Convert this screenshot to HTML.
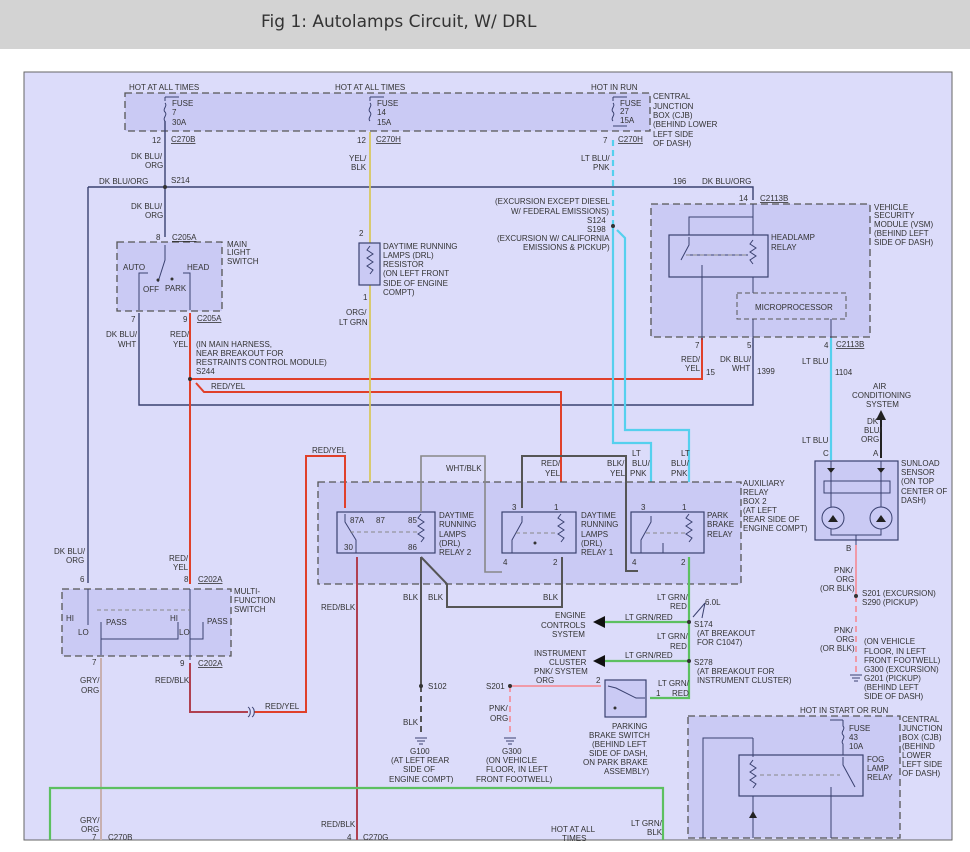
<!DOCTYPE html>
<html><head><meta charset="utf-8"><style>
html,body{margin:0;padding:0;background:#fff;}
body{width:970px;height:852px;overflow:hidden;position:relative;font-family:"Liberation Sans",sans-serif;}
.hdr{position:absolute;left:0;top:0;width:970px;height:49px;background:#d3d3d3;}
.hdr span{position:absolute;left:261px;top:12px;font-size:17px;color:#333;font-family:"DejaVu Sans","Liberation Sans",sans-serif;}
svg{position:absolute;left:0;top:0;}
text{font-family:"Liberation Sans",sans-serif;font-size:8px;fill:#333;}
.b{fill:none;stroke:#3a4170;stroke-width:1.4}
.t{fill:none;stroke:#3a4170;stroke-width:1}
.bx{fill:#cacaf4;stroke:#555;stroke-width:1.3;stroke-dasharray:7,4}
.rl{fill:#cacaf4;stroke:#3a4170;stroke-width:1.2}
.red{fill:none;stroke:#e0402a;stroke-width:2}
.rb{fill:none;stroke:#b04050;stroke-width:2}
.cy{fill:none;stroke:#55d0ee;stroke-width:2.2}
.gr{fill:none;stroke:#5cc060;stroke-width:2.2}
.gy{fill:none;stroke:#888;stroke-width:1.6}
.dg{fill:none;stroke:#555;stroke-width:2}
.pk{fill:none;stroke:#f09aa8;stroke-width:2}
</style></head><body>
<div class="hdr"><span>Fig 1: Autolamps Circuit, W/ DRL</span></div>
<svg width="970" height="852" viewBox="0 0 970 852">
<rect x="24" y="72" width="928" height="768" fill="#dcdcfa" stroke="#666" stroke-width="1"/>
<!-- top CJB -->
<rect class="bx" x="125" y="93" width="525" height="38"/>
<text x="129" y="90">HOT AT ALL TIMES</text>
<text x="335" y="90">HOT AT ALL TIMES</text>
<text x="591" y="90">HOT IN RUN</text>
<text x="172" y="106">FUSE</text><text x="172" y="115">7</text><text x="172" y="125">30A</text>
<text x="377" y="106">FUSE</text><text x="377" y="115">14</text><text x="377" y="125">15A</text>
<text x="620" y="106">FUSE</text><text x="620" y="114">27</text><text x="620" y="123">15A</text>
<text x="653" y="99">CENTRAL</text><text x="653" y="109">JUNCTION</text><text x="653" y="118">BOX (CJB)</text><text x="653" y="127">(BEHIND LOWER</text><text x="653" y="137">LEFT SIDE</text><text x="653" y="146">OF DASH)</text>
<path class="t" d="M165 97v4M165 97h14M370 97v4M370 97h14M613 97v4M613 97h14M613 126h14"/>
<path class="t" d="M165 103c3 3-3 6 0 9c3 3-3 6 0 9M370 103c3 3-3 6 0 9c3 3-3 6 0 9M613 103c3 3-3 6 0 9c3 3-3 6 0 9"/>
<text x="152" y="143">12</text><text x="171" y="142" text-decoration="underline">C270B</text>
<text x="357" y="143">12</text><text x="376" y="142" text-decoration="underline">C270H</text>
<text x="603" y="143">7</text><text x="618" y="142" text-decoration="underline">C270H</text>
<!-- dk blu org -->
<path class="b" d="M165 121V237M88 187H753V200M88 187V583"/>
<circle cx="165" cy="187" r="2" fill="#333"/>
<text x="131" y="159">DK BLU/</text><text x="145" y="168">ORG</text>
<text x="99" y="184">DK BLU/ORG</text><text x="171" y="183">S214</text>
<text x="131" y="209">DK BLU/</text><text x="145" y="218">ORG</text>
<text x="673" y="184">196</text><text x="702" y="184">DK BLU/ORG</text>
<!-- main light switch -->
<rect class="bx" x="117" y="242" width="105" height="69"/>
<text x="156" y="240">8</text><text x="172" y="240" text-decoration="underline">C205A</text>
<text x="227" y="247">MAIN</text><text x="227" y="255">LIGHT</text><text x="227" y="264">SWITCH</text>
<text x="123" y="270">AUTO</text><text x="187" y="270">HEAD</text><text x="143" y="292">OFF</text><text x="165" y="291">PARK</text>
<path class="t" d="M165 245v15l-7 22M148 273h-9V310M183 273h7V310"/>
<circle cx="158" cy="280" r="1.5" fill="#333"/><circle cx="172" cy="279" r="1.5" fill="#333"/>
<text x="131" y="322">7</text><text x="183" y="322">9</text><text x="197" y="321" text-decoration="underline">C205A</text>
<path class="b" d="M139 313V405H753V338"/>
<text x="106" y="337">DK BLU/</text><text x="118" y="347">WHT</text>
<text x="170" y="337">RED/</text><text x="173" y="347">YEL</text>
<text x="196" y="347">(IN MAIN HARNESS,</text><text x="196" y="356">NEAR BREAKOUT FOR</text><text x="196" y="365">RESTRAINTS CONTROL MODULE)</text><text x="196" y="374">S244</text>
<!-- red -->
<path class="red" d="M190 313V580M190 379H702V338M196 383l8 9H561V507"/>
<circle cx="190" cy="379" r="2" fill="#333"/>
<text x="211" y="389">RED/YEL</text>
<text x="681" y="362">RED/</text><text x="685" y="371">YEL</text><text x="706" y="375">15</text>
<text x="720" y="362">DK BLU/</text><text x="732" y="371">WHT</text><text x="757" y="374">1399</text>
<!-- yellow -->
<path d="M370 132V508" fill="none" stroke="#d8c860" stroke-width="1.8"/>
<text x="349" y="161">YEL/</text><text x="351" y="170">BLK</text>
<text x="359" y="236">2</text><text x="363" y="300">1</text>
<rect class="rl" x="359" y="243" width="21" height="42"/>
<path class="t" d="M370 246l-3 4l6 4l-6 4l6 4l-6 4l6 4l-3 4"/>
<text x="383" y="249">DAYTIME RUNNING</text><text x="383" y="258">LAMPS (DRL)</text><text x="383" y="267">RESISTOR</text><text x="383" y="276">(ON LEFT FRONT</text><text x="383" y="286">SIDE OF ENGINE</text><text x="383" y="295">COMPT)</text>
<text x="346" y="315">ORG/</text><text x="339" y="325">LT GRN</text>
<!-- cyan -->
<path class="cy" d="M613 140V226" stroke-dasharray="6,4"/>
<path class="cy" d="M613 226V443H651V508M617 230l8 8V430H689V508"/>
<circle cx="613" cy="226" r="2" fill="#333"/>
<text x="581" y="161">LT BLU/</text><text x="593" y="170">PNK</text>
<text x="495" y="204">(EXCURSION EXCEPT DIESEL</text><text x="511" y="214">W/ FEDERAL EMISSIONS)</text><text x="587" y="223">S124</text><text x="587" y="232">S198</text><text x="497" y="241">(EXCURSION W/ CALIFORNIA</text><text x="523" y="250">EMISSIONS &amp; PICKUP)</text>
<!-- VSM -->
<rect class="bx" x="651" y="204" width="219" height="133"/>
<text x="739" y="201">14</text><text x="760" y="201" text-decoration="underline">C2113B</text>
<text x="874" y="210">VEHICLE</text><text x="874" y="218">SECURITY</text><text x="874" y="227">MODULE (VSM)</text><text x="874" y="236">(BEHIND LEFT</text><text x="874" y="245">SIDE OF DASH)</text>
<path class="t" d="M753 204V293M753 217H689V235"/>
<rect class="rl" x="669" y="235" width="99" height="42"/>
<path class="t" d="M689 237v8l-8 15M753 240l-3 4l6 4l-6 4l6 4l-6 4l3 4M686 255h62M702 265v75" stroke-dasharray="0"/>
<path d="M686 255h60" stroke="#888" stroke-dasharray="4,3" fill="none"/>
<text x="771" y="240">HEADLAMP</text><text x="771" y="250">RELAY</text>
<rect x="737" y="293" width="109" height="26" fill="#cacaf4" stroke="#555" stroke-dasharray="5,3"/>
<text x="755" y="310">MICROPROCESSOR</text>
<path class="t" d="M753 319V338M831 319V338"/>
<text x="695" y="348">7</text><text x="747" y="348">5</text><text x="824" y="348">4</text><text x="836" y="347" text-decoration="underline">C2113B</text>
<path class="cy" d="M831 338V460"/>
<text x="802" y="364">LT BLU</text><text x="835" y="375">1104</text>
<text x="873" y="389">AIR</text><text x="852" y="398">CONDITIONING</text><text x="866" y="407">SYSTEM</text>
<path d="M881 458V418" stroke="#222" stroke-width="2"/><path d="M876 420l5-10l5 10z" fill="#222"/>
<text x="867" y="424">DK</text><text x="864" y="433">BLU/</text><text x="861" y="442">ORG</text><text x="873" y="456">A</text>
<text x="802" y="443">LT BLU</text><text x="823" y="456">C</text>
<!-- sunload -->
<rect class="rl" x="815" y="461" width="83" height="79"/>
<rect x="824" y="481" width="66" height="12" fill="#cacaf4" stroke="#3a4170"/>
<circle cx="833" cy="518" r="11" fill="none" stroke="#3a4170"/><circle cx="881" cy="518" r="11" fill="none" stroke="#3a4170"/>
<path class="t" d="M831 461V507M881 461V507M831 529v6h50v-6M856 535v10"/>
<path d="M827 468h8l-4 5zM877 468h8l-4 5zM828 522l5-7l5 7zM876 522l5-7l5 7z" fill="#222"/>
<text x="901" y="466">SUNLOAD</text><text x="901" y="475">SENSOR</text><text x="901" y="484">(ON TOP</text><text x="901" y="494">CENTER OF</text><text x="901" y="503">DASH)</text>
<text x="846" y="551">B</text>
<path class="pk" d="M856 545V596"/><path class="pk" d="M856 596V672" stroke-dasharray="6,4"/>
<circle cx="856" cy="596" r="2" fill="#333"/>
<text x="834" y="573">PNK/</text><text x="836" y="582">ORG</text><text x="820" y="591">(OR BLK)</text>
<text x="862" y="596">S201  (EXCURSION)</text><text x="862" y="605">S290  (PICKUP)</text>
<text x="834" y="633">PNK/</text><text x="836" y="642">ORG</text><text x="820" y="651">(OR BLK)</text>
<text x="864" y="644">(ON VEHICLE</text><text x="864" y="654">FLOOR, IN LEFT</text><text x="864" y="663">FRONT FOOTWELL)</text><text x="864" y="672">G300  (EXCURSION)</text><text x="864" y="681">G201  (PICKUP)</text><text x="864" y="690">(BEHIND LEFT</text><text x="864" y="699">SIDE OF DASH)</text>
<path class="t" d="M850 675h12M852 678h8M854 681h4"/>
<!-- aux relay box -->
<rect class="bx" x="318" y="482" width="423" height="102"/>
<text x="743" y="486">AUXILIARY</text><text x="743" y="495">RELAY</text><text x="743" y="504">BOX 2</text><text x="743" y="513">(AT LEFT</text><text x="743" y="522">REAR SIDE OF</text><text x="743" y="531">ENGINE COMPT)</text>
<rect class="rl" x="337" y="512" width="98" height="41"/>
<rect class="rl" x="502" y="512" width="74" height="41"/>
<rect class="rl" x="631" y="512" width="73" height="41"/>
<text x="350" y="523">87A</text><text x="376" y="523">87</text><text x="408" y="523">85</text><text x="344" y="550">30</text><text x="408" y="550">86</text>
<text x="439" y="518">DAYTIME</text><text x="439" y="527">RUNNING</text><text x="439" y="537">LAMPS</text><text x="439" y="546">(DRL)</text><text x="439" y="555">RELAY 2</text>
<text x="581" y="518">DAYTIME</text><text x="581" y="527">RUNNING</text><text x="581" y="537">LAMPS</text><text x="581" y="546">(DRL)</text><text x="581" y="555">RELAY 1</text>
<text x="707" y="518">PARK</text><text x="707" y="527">BRAKE</text><text x="707" y="537">RELAY</text>
<text x="512" y="510">3</text><text x="554" y="510">1</text><text x="641" y="510">3</text><text x="682" y="510">1</text>
<text x="503" y="565">4</text><text x="553" y="565">2</text><text x="632" y="565">4</text><text x="681" y="565">2</text>
<path class="t" d="M345 514v8l11 18v13M421 514l-3 4l6 4l-6 4l6 4l-6 4l6 4l-3 4M561 514l-3 4l6 4l-6 4l6 4l-6 4l6 4l-3 4M689 514l-3 4l6 4l-6 4l6 4l-6 4l6 4l-3 4M522 516v6l-10 18v13M651 516v6l-10 18v13M663 543v10"/>
<path d="M350 532h68M516 533h42M646 533h40" stroke="#888" stroke-dasharray="4,3" fill="none"/>
<circle cx="535" cy="543" r="1.5" fill="#333"/>
<!-- gray wires -->
<path class="gy" d="M421 512V456H485V572H502"/>
<path class="dg" d="M522 508V456H626V571H638"/>
<text x="446" y="471">WHT/BLK</text>
<text x="541" y="466">RED/</text><text x="545" y="476">YEL</text>
<text x="607" y="466">BLK/</text><text x="610" y="476">YEL</text>
<text x="632" y="456">LT</text><text x="632" y="466">BLU/</text><text x="630" y="476">PNK</text>
<text x="681" y="456">LT</text><text x="671" y="466">BLU/</text><text x="671" y="476">PNK</text>
<!-- BLK -->
<path class="dg" d="M421 557V686M421 557l26 27V607H562V557"/>
<path class="dg" d="M421 686V735" stroke-dasharray="6,4"/>
<circle cx="421" cy="686" r="2" fill="#333"/>
<text x="403" y="600">BLK</text><text x="428" y="600">BLK</text><text x="543" y="600">BLK</text>
<text x="428" y="689">S102</text><text x="403" y="725">BLK</text>
<path class="t" d="M415 738h12M417 741h8M419 744h4"/>
<text x="410" y="754">G100</text><text x="391" y="763">(AT LEFT REAR</text><text x="403" y="772">SIDE OF</text><text x="389" y="782">ENGINE COMPT)</text>
<!-- green -->
<path class="gr" d="M689 557V698H650M689 622H597M689 661H597"/>
<path d="M593 622l12-6v12zM593 661l12-6v12z" fill="#111"/>
<circle cx="689" cy="622" r="2" fill="#333"/><circle cx="689" cy="661" r="2" fill="#333"/>
<path class="t" d="M705 603l-12 14M705 603l-3 15"/>
<text x="657" y="600">LT GRN/</text><text x="670" y="609">RED</text><text x="705" y="605">6.0L</text>
<text x="625" y="620">LT GRN/RED</text><text x="694" y="627">S174</text><text x="697" y="636">(AT BREAKOUT</text><text x="697" y="645">FOR C1047)</text>
<text x="657" y="639">LT GRN/</text><text x="670" y="649">RED</text>
<text x="625" y="658">LT GRN/RED</text><text x="694" y="665">S278</text><text x="697" y="674">(AT BREAKOUT FOR</text><text x="697" y="683">INSTRUMENT CLUSTER)</text>
<text x="555" y="618">ENGINE</text><text x="541" y="628">CONTROLS</text><text x="552" y="637">SYSTEM</text>
<text x="534" y="656">INSTRUMENT</text><text x="549" y="665">CLUSTER</text><text x="534" y="674">PNK/ SYSTEM</text><text x="536" y="683">ORG</text>
<text x="658" y="686">LT GRN/</text><text x="656" y="696">1</text><text x="672" y="696">RED</text>
<!-- park brake switch -->
<rect class="rl" x="605" y="680" width="41" height="37"/>
<path class="t" d="M608 686l8 2l20 10h9"/>
<circle cx="615" cy="708" r="1.5" fill="#333"/>
<text x="596" y="683">2</text>
<path class="pk" d="M510 686H601"/><path class="pk" d="M510 686V735" stroke-dasharray="6,4"/>
<circle cx="510" cy="686" r="2" fill="#333"/>
<text x="486" y="689">S201</text><text x="489" y="711">PNK/</text><text x="490" y="721">ORG</text>
<path class="t" d="M504 738h12M506 741h8M508 744h4"/>
<text x="502" y="754">G300</text><text x="486" y="763">(ON VEHICLE</text><text x="486" y="772">FLOOR, IN LEFT</text><text x="476" y="782">FRONT FOOTWELL)</text>
<text x="612" y="729">PARKING</text><text x="589" y="738">BRAKE SWITCH</text><text x="592" y="747">(BEHIND LEFT</text><text x="589" y="756">SIDE OF DASH,</text><text x="583" y="765">ON PARK BRAKE</text><text x="604" y="774">ASSEMBLY)</text>
<!-- red/yel loop -->
<path class="red" d="M345 508V456H306V712H254"/>
<path class="rb" d="M248 712H190V663"/>
<path class="t" d="M248 707c3 2 3 8 0 10M252 707c3 2 3 8 0 10"/>
<text x="312" y="453">RED/YEL</text><text x="265" y="709">RED/YEL</text>
<path class="rb" d="M357 557V840"/>
<text x="321" y="610">RED/BLK</text>
<!-- multi-function -->
<path class="red" d="M190 392V584"/>
<rect class="bx" x="62" y="589" width="169" height="67"/>
<text x="80" y="582">6</text><text x="184" y="582">8</text><text x="198" y="582" text-decoration="underline">C202A</text>
<text x="54" y="554">DK BLU/</text><text x="66" y="563">ORG</text>
<text x="169" y="561">RED/</text><text x="173" y="570">YEL</text>
<text x="234" y="594">MULTI-</text><text x="234" y="603">FUNCTION</text><text x="234" y="612">SWITCH</text>
<path class="t" d="M88 589V625M190 589V660M88 601v0M101 622V655M101 639H178V622M190 639H203V622"/>
<path d="M97 610H190" stroke="#888" stroke-dasharray="4,3" fill="none"/>
<text x="66" y="621">HI</text><text x="78" y="635">LO</text><text x="106" y="625">PASS</text>
<text x="170" y="621">HI</text><text x="179" y="635">LO</text><text x="207" y="624">PASS</text>
<text x="92" y="665">7</text><text x="180" y="666">9</text><text x="198" y="666" text-decoration="underline">C202A</text>
<text x="80" y="683">GRY/</text><text x="81" y="693">ORG</text><text x="155" y="683">RED/BLK</text>
<path d="M101 658V840" stroke="#c8b0b0" stroke-width="2" fill="none"/>
<!-- green big -->
<path class="gr" d="M50 840V788H663V840"/>
<text x="80" y="823">GRY/</text><text x="81" y="832">ORG</text><text x="92" y="840">7</text><text x="108" y="840">C270B</text>
<text x="321" y="827">RED/BLK</text><text x="347" y="840">4</text><text x="363" y="840">C270G</text>
<text x="551" y="832">HOT AT ALL</text><text x="562" y="841">TIMES</text>
<text x="631" y="826">LT GRN/</text><text x="647" y="835">BLK</text>
<!-- fog lamp CJB -->
<rect class="bx" x="688" y="716" width="212" height="122"/>
<text x="800" y="713">HOT IN START OR RUN</text>
<text x="849" y="731">FUSE</text><text x="849" y="740">43</text><text x="849" y="749">10A</text>
<text x="902" y="722">CENTRAL</text><text x="902" y="731">JUNCTION</text><text x="902" y="740">BOX (CJB)</text><text x="902" y="749">(BEHIND</text><text x="902" y="758">LOWER</text><text x="902" y="767">LEFT SIDE</text><text x="902" y="776">OF DASH)</text>
<path class="t" d="M843 720v6c3 3-3 6 0 9c3 3-3 6 0 9v11M843 720h-13"/>
<rect class="rl" x="739" y="755" width="124" height="41"/>
<text x="867" y="762">FOG</text><text x="867" y="771">LAMP</text><text x="867" y="780">RELAY</text>
<path class="t" d="M753 738H703V838M753 738V757M753 760l-3 4l6 4l-6 4l6 4l-6 4l6 4l-3 4M753 796V838M843 757v8l12 22M831 787v51"/>
<path d="M760 775h80" stroke="#888" stroke-dasharray="4,3" fill="none"/>
<path d="M749 818h8l-4-7z" fill="#222"/>
</svg>
</body></html>
